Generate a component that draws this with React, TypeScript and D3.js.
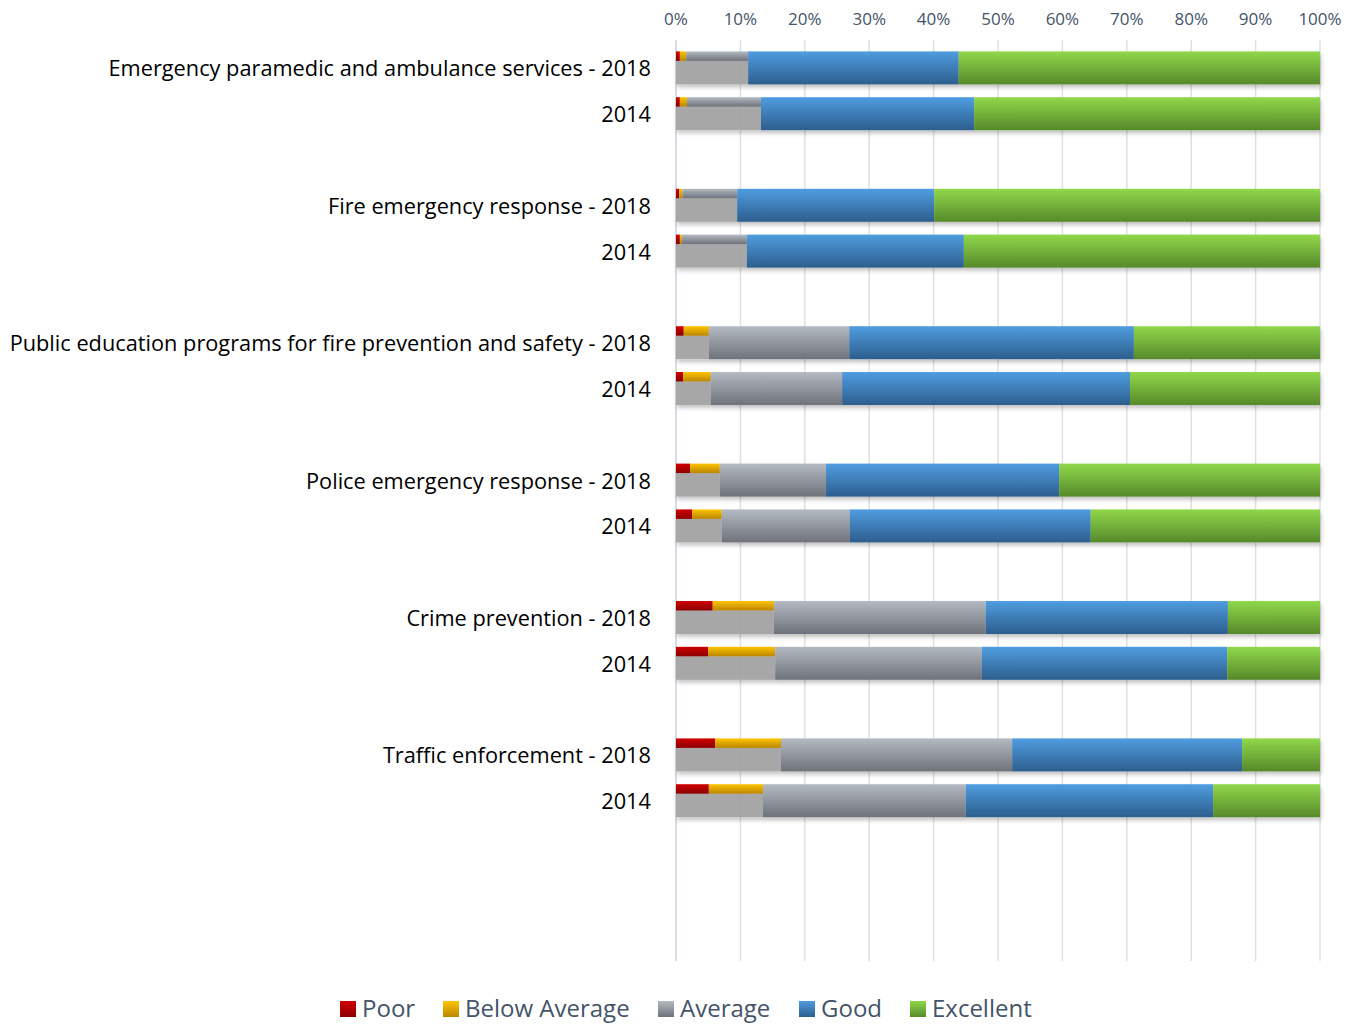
import React from "react";
import * as d3 from "d3";

const rowKeys = ["ems18","ems14","b1","fire18","fire14","b2","pub18","pub14","b3","pol18","pol14","b4","cr18","cr14","b5","tr18","tr14","b6","b7","b8"];
const rowLabels = [
  "Emergency paramedic and ambulance services - 2018","2014","",
  "Fire emergency response - 2018","2014","",
  "Public education programs for fire prevention and safety - 2018","2014","",
  "Police emergency response - 2018","2014","",
  "Crime prevention - 2018","2014","",
  "Traffic enforcement - 2018","2014","","","",
];
const barKeys = ["ems18","ems14","fire18","fire14","pub18","pub14","pol18","pol14","cr18","cr14","tr18","tr14"];
const poor = [0.6,0.6,0.5,0.6,1.2,1.1,2.2,2.5,5.7,5.0,6.1,5.1];
const belowAverage = [1.0,1.1,0.5,0.3,3.9,4.3,4.6,4.6,9.5,10.4,10.2,8.4];
const average = [9.6,11.5,8.5,10.1,21.8,20.4,16.5,19.9,32.9,32.1,35.9,31.5];
const good = [32.7,33.1,30.6,33.7,44.2,44.7,36.2,37.4,37.6,38.1,35.7,38.4];
const excellent = [56.1,53.7,59.9,55.3,28.9,29.5,40.5,35.6,14.3,14.4,12.1,16.6];
const seriesNames = ["Poor","Below Average","Average","Good","Excellent"];
const ticks = [0,10,20,30,40,50,60,70,80,90,100];

const grads = [
  ["#d00000","#8a0000"],
  ["#ffc400","#b98500"],
  ["#b4bac2","#6e727a"],
  ["#4f9de0","#2d5e8e"],
  ["#90d84a","#56892a"],
];

export default function App() {
  const W = 1355, H = 1026;
  const x = d3.scaleLinear().domain([0, 100]).range([676, 1320]);
  const y = d3.scaleBand().domain(rowKeys).range([45, 961]).paddingInner(0.28).paddingOuter(0.14);
  const rows = barKeys.map((k, i) => ({ key: k, vals: [poor[i], belowAverage[i], average[i], good[i], excellent[i]] }));
  const font = "'Open Sans', sans-serif";
  const bh = y.bandwidth();
  const stripH = 9.5;
  const legendX = [340, 443, 658, 799, 910];
  return (
    <svg width={W} height={H} style={{ position: "absolute", left: 0, top: 0 }} fontFamily={font}>
      <defs>
        {grads.map((g, i) => (
          <linearGradient key={i} id={"g" + i} x1="0" y1="0" x2="0" y2="1">
            <stop offset="0" stopColor={g[0]} />
            <stop offset="1" stopColor={g[1]} />
          </linearGradient>
        ))}
        <filter id="sh" x="-5%" y="-20%" width="110%" height="160%">
          <feGaussianBlur in="SourceAlpha" stdDeviation="2" />
          <feOffset dx="1" dy="3" result="b" />
          <feComponentTransfer><feFuncA type="linear" slope="0.25" /></feComponentTransfer>
          <feMerge><feMergeNode /><feMergeNode in="SourceGraphic" /></feMerge>
        </filter>
      </defs>
      <rect width={W} height={H} fill="#fff" />
      {ticks.map((t) => (
        <g key={t}>
          <line x1={x(t)} x2={x(t)} y1={40} y2={961} stroke={t === 0 ? "#d6dbe6" : "#e0e0e0"} strokeWidth={t === 0 ? 2 : 1.5} />
          <text x={x(t)} y={25} textAnchor="middle" fontSize={17} fill="#44546a">{t}%</text>
        </g>
      ))}
      {rowKeys.map((k, i) => rowLabels[i] ? (
        <text key={k} x={651} y={(y(k) as number) + bh / 2 + 8.5} textAnchor="end" fontSize={21.75} fill="#000">{rowLabels[i]}</text>
      ) : null)}
      {rows.map((r) => {
        const y0 = y(r.key) as number;
        let cum = 0;
        let thinEnd = 0;
        let prefix = true;
        const segs = r.vals.map((v, j) => {
          const s = cum; cum += v;
          const thin = prefix && v < 14;
          if (thin) thinEnd = cum; else prefix = false;
          return { s, e: cum, j, thin };
        });
        return (
          <g key={r.key} filter="url(#sh)">
            {thinEnd > 0 && (
              <rect x={x(0)} y={y0 + stripH} width={x(thinEnd) - x(0)} height={bh - stripH} fill="#a3a3a3" fillOpacity={0.92} />
            )}
            {segs.map((sg) => (
              <rect key={sg.j} x={x(sg.s)} y={y0} width={x(sg.e) - x(sg.s)} height={sg.thin ? stripH : bh} fill={`url(#g${sg.j})`} />
            ))}
          </g>
        );
      })}
      {seriesNames.map((n, i) => (
        <g key={n}>
          <rect x={legendX[i]} y={1001} width={16} height={16} fill={`url(#g${i})`} />
          <text x={legendX[i] + 22} y={1017} fontSize={24} fill="#44546a">{n}</text>
        </g>
      ))}
    </svg>
  );
}
